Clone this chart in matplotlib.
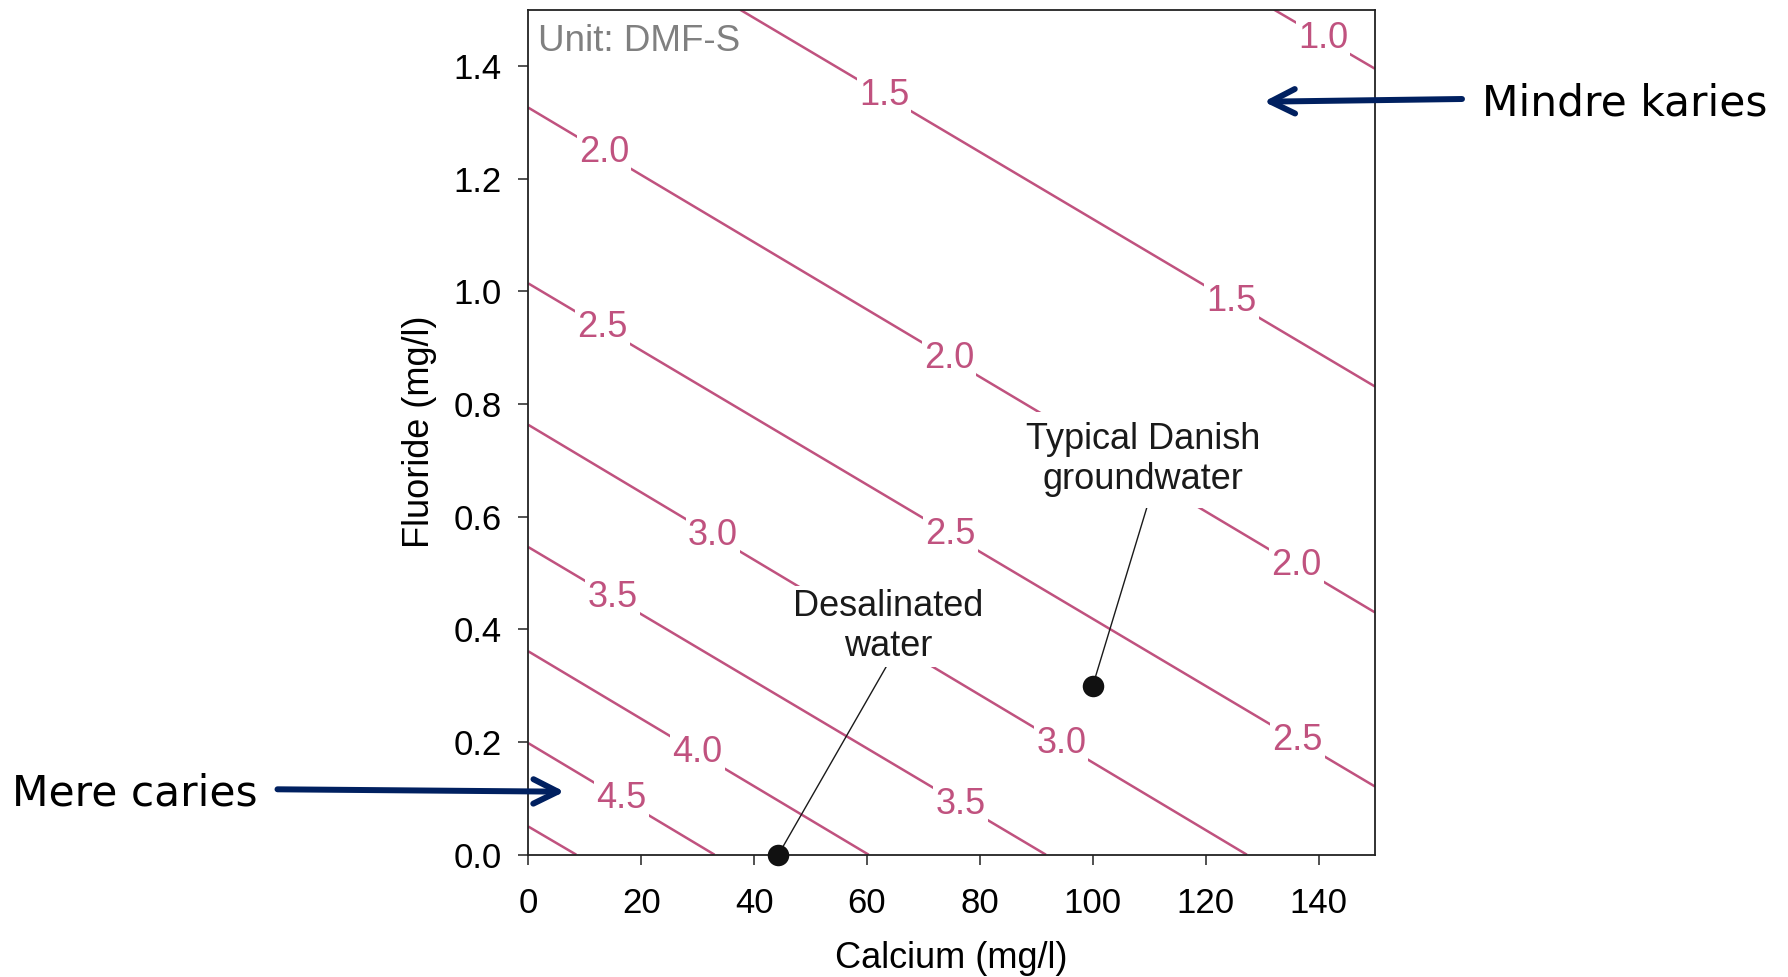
import numpy as np
import matplotlib
matplotlib.use("Agg")
import matplotlib.pyplot as plt

# DMF-S iso-lines, each a straight segment (Ca mg/l, F mg/l)
levels = [5.0, 4.5, 4.0, 3.5, 3.0, 2.5, 2.0, 1.5, 1.0]
line_ca_start = [0.0, 0.0, 0.0, 0.0, 0.0, 0.0, 0.0, 37.5, 132.1]
line_f_start = [0.050, 0.198, 0.361, 0.546, 0.763, 1.014, 1.326, 1.5, 1.5]
line_ca_end = [8.5, 33.0, 60.3, 91.7, 127.3, 150.0, 150.0, 150.0, 150.0]
line_f_end = [0.0, 0.0, 0.0, 0.0, 0.0, 0.121, 0.430, 0.831, 1.395]

# where the level labels sit (Ca position along each line)
label_level = [1.0, 1.5, 1.5, 2.0, 2.0, 2.0, 2.5, 2.5, 2.5, 3.0, 3.0, 3.5, 3.5, 4.0, 4.5]
label_ca = [140.8, 63.0, 124.6, 13.4, 74.5, 136.1, 13.1, 74.8, 136.3, 32.7, 94.4,
            14.9, 76.6, 30.0, 16.5]

# example waters
point_names = ["Typical Danish\ngroundwater", "Desalinated\nwater"]
point_ca = [100.0, 44.3]
point_f = [0.30, 0.0]

x_ticks = [0, 20, 40, 60, 80, 100, 120, 140]
y_ticks = [0.0, 0.2, 0.4, 0.6, 0.8, 1.0, 1.2, 1.4]

LINE_COLOR = "#c0527f"
ARROW_COLOR = "#002060"
FONT = "Liberation Sans"

W, H = 1788, 977
fig = plt.figure(figsize=(W / 100, H / 100), dpi=100)
ax = fig.add_axes([528.3 / W, 1 - 854.7 / H, (1375 - 528.3) / W, (854.7 - 9.6) / H])

for lev, x0, y0, x1, y1 in zip(levels, line_ca_start, line_f_start, line_ca_end, line_f_end):
    ax.plot([x0, x1], [y0, y1], color=LINE_COLOR, lw=1.8, zorder=1, solid_capstyle="butt")

for lev, ca in zip(label_level, label_ca):
    i = levels.index(lev)
    f = np.interp(ca, [line_ca_start[i], line_ca_end[i]], [line_f_start[i], line_f_end[i]])
    ax.text(ca, f, f"{lev:.1f}", color=LINE_COLOR, fontsize=26, family=FONT,
            ha="center", va="center", zorder=3,
            bbox=dict(boxstyle="square,pad=0.06", fc="white", ec="none"))

# annotated waters
text_pos = [(108.9, 0.701), (63.7, 0.405)]
text_pad = [0.3, 0.08]
relpos_x = [0.53, 0.5]
for name, ca, f, (tx, ty), pad, rx in zip(point_names, point_ca, point_f, text_pos, text_pad, relpos_x):
    ax.annotate(name, xy=(ca, f), xytext=(tx, ty), textcoords="data",
                ha="center", va="center", fontsize=26, family=FONT, color="#1a1a1a",
                linespacing=1.17, zorder=4, annotation_clip=False,
                bbox=dict(boxstyle=f"square,pad={pad}", fc="white", ec="none"),
                arrowprops=dict(arrowstyle="-", color="#1a1a1a", lw=1.0,
                                shrinkA=0, shrinkB=0, relpos=(rx, 0.0)))
ax.scatter(point_ca, point_f, s=240, color="#111111", zorder=6, clip_on=False, linewidths=0)

ax.text(0.012, 0.983, "Unit: DMF-S", transform=ax.transAxes, ha="left", va="top",
        fontsize=26.5, family=FONT, color="#808080")

ax.set_xlim(0, 150)
ax.set_ylim(0, 1.5)
ax.set_xticks(x_ticks)
ax.set_yticks(y_ticks)
ax.set_xticklabels([str(v) for v in x_ticks], family=FONT, fontsize=25)
ax.set_yticklabels([f"{v:.1f}" for v in y_ticks], family=FONT, fontsize=25)
ax.tick_params(axis="x", direction="out", length=7.2, width=1.1, pad=16, color="#222222")
ax.tick_params(axis="y", direction="out", length=7.2, width=1.1, pad=12, color="#222222")
for sp in ax.spines.values():
    sp.set_linewidth(1.3)
    sp.set_color("#222222")

ax.set_xlabel("Calcium (mg/l)", family=FONT, fontsize=26, labelpad=15)
ax.set_ylabel("Fluoride (mg/l)", family=FONT, fontsize=26, labelpad=12)

# direction arrows outside the plot
arrow_kw = dict(arrowstyle="->,head_length=0.8,head_width=0.4", lw=4.3,
                color=ARROW_COLOR, shrinkA=0, shrinkB=0, mutation_scale=22)
ax.annotate("", xy=(1263.8 / W, 1 - 101.7 / H), xycoords="figure fraction",
            xytext=(1462 / W, 1 - 99 / H), textcoords="figure fraction",
            arrowprops=arrow_kw, zorder=7)
ax.annotate("", xy=(564.5 / W, 1 - 791.7 / H), xycoords="figure fraction",
            xytext=(277.5 / W, 1 - 789.3 / H), textcoords="figure fraction",
            arrowprops=arrow_kw, zorder=7)
fig.text(1482 / W, 1 - 115 / H, "Mindre karies", family="DejaVu Sans", fontsize=30.5,
         ha="left", va="baseline", color="black")
fig.text(11.5 / W, 1 - 806 / H, "Mere caries", family="DejaVu Sans", fontsize=30.5,
         ha="left", va="baseline", color="black")

fig.savefig("out.png", dpi=100, facecolor="white")
